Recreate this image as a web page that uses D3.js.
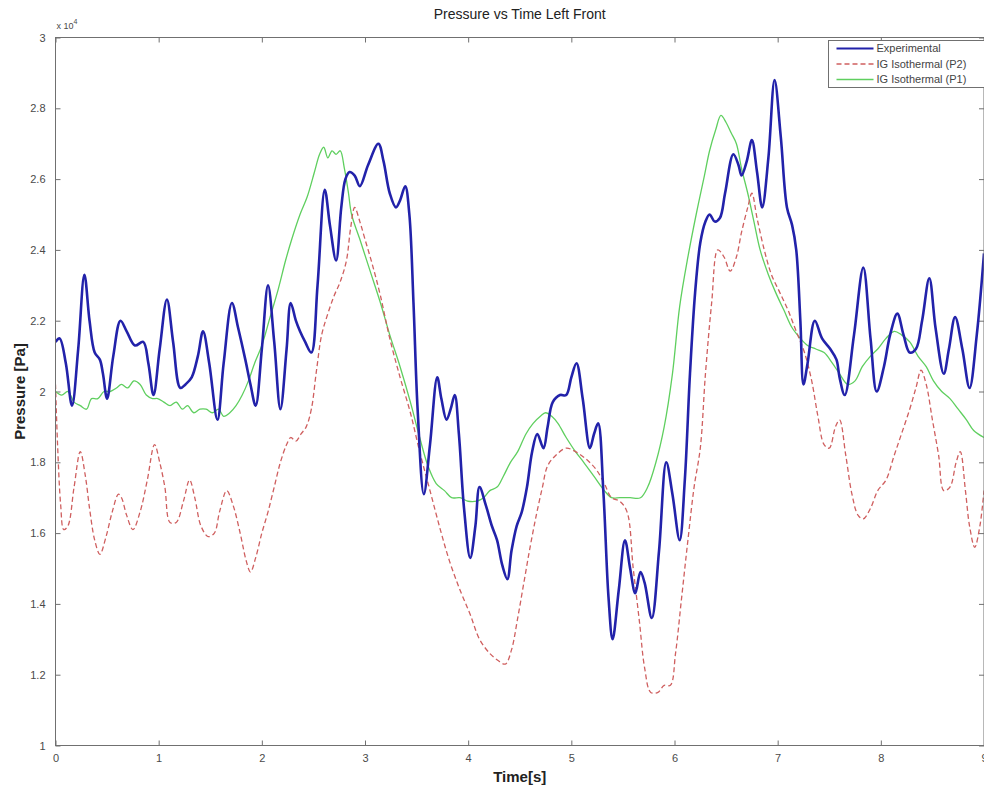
<!DOCTYPE html>
<html>
<head>
<meta charset="utf-8">
<script src="https://cdn.jsdelivr.net/npm/d3@7"></script>
<style>
  html, body { margin: 0; padding: 0; background: #fff; }
  svg { display: block; }
  text { font-family: "Liberation Sans", Arial, Helvetica, sans-serif; }
</style>
</head>
<body>
<svg id="chart" width="984" height="789"></svg>
<script>
// Time axis ticks (s) and pressure ticks (x 10^4 Pa)
const xTicks = [0, 1, 2, 3, 4, 5, 6, 7, 8, 9];
const yTicks = [1, 1.2, 1.4, 1.6, 1.8, 2, 2.2, 2.4, 2.6, 2.8, 3];
const seriesNames = ["Experimental", "IG Isothermal (P2)", "IG Isothermal (P1)"];

// Experimental pressure (x 10^4 Pa)
const expTime = [0,0.04,0.10,0.16,0.22,0.28,0.33,0.38,0.43,0.46,0.50,0.56,0.63,0.69,0.77,0.85,0.90,0.95,1.01,1.08,1.14,1.21,1.26,1.32,1.38,1.43,1.49,1.57,1.63,1.71,1.77,1.84,1.89,1.94,2.00,2.06,2.12,2.18,2.24,2.28,2.33,2.37,2.42,2.48,2.54,2.61,2.66,2.72,2.77,2.81,2.85,2.90,2.95,3.03,3.13,3.18,3.24,3.30,3.34,3.39,3.43,3.47,3.51,3.57,3.63,3.70,3.74,3.79,3.83,3.87,3.91,3.96,4.02,4.07,4.11,4.17,4.23,4.28,4.33,4.38,4.42,4.47,4.52,4.57,4.62,4.67,4.73,4.77,4.82,4.89,4.95,5.00,5.05,5.11,5.18,5.22,5.26,5.31,5.36,5.40,5.46,5.52,5.57,5.62,5.67,5.71,5.78,5.85,5.92,5.98,6.05,6.10,6.15,6.20,6.25,6.30,6.34,6.39,6.44,6.49,6.57,6.62,6.65,6.70,6.75,6.80,6.85,6.91,6.97,7.03,7.09,7.14,7.18,7.22,7.25,7.29,7.36,7.43,7.51,7.57,7.60,7.65,7.74,7.83,7.90,7.96,8.03,8.09,8.16,8.22,8.28,8.34,8.40,8.47,8.53,8.61,8.66,8.72,8.79,8.86,8.93,9.00];
const expPressure = [2.14,2.15,2.08,1.96,2.12,2.33,2.20,2.11,2.09,2.05,1.98,2.10,2.20,2.17,2.13,2.14,2.08,1.99,2.12,2.26,2.14,2.01,2.02,2.04,2.10,2.17,2.08,1.92,2.08,2.25,2.18,2.09,2.02,1.96,2.12,2.30,2.14,1.95,2.12,2.25,2.20,2.17,2.14,2.11,2.30,2.57,2.47,2.37,2.52,2.60,2.62,2.61,2.58,2.64,2.70,2.65,2.56,2.52,2.54,2.58,2.50,2.25,1.95,1.71,1.85,2.04,1.98,1.92,1.95,1.99,1.88,1.67,1.53,1.62,1.73,1.68,1.62,1.58,1.51,1.47,1.55,1.62,1.66,1.73,1.83,1.88,1.84,1.90,1.97,1.99,1.99,2.04,2.08,1.98,1.84,1.88,1.91,1.72,1.42,1.30,1.44,1.58,1.50,1.43,1.49,1.46,1.36,1.55,1.80,1.71,1.58,1.75,2.05,2.28,2.42,2.48,2.50,2.48,2.49,2.56,2.67,2.64,2.61,2.65,2.71,2.62,2.52,2.66,2.88,2.72,2.52,2.47,2.40,2.20,2.02,2.08,2.20,2.15,2.12,2.09,2.04,1.99,2.16,2.35,2.15,2.00,2.07,2.16,2.22,2.16,2.11,2.12,2.20,2.32,2.18,2.05,2.12,2.21,2.12,2.01,2.16,2.39];

// IG isothermal model, P2 (x 10^4 Pa)
const p2Time = [0,0.02,0.05,0.08,0.12,0.18,0.24,0.29,0.33,0.38,0.43,0.49,0.55,0.61,0.64,0.69,0.75,0.82,0.89,0.96,1.01,1.06,1.11,1.17,1.24,1.30,1.35,1.41,1.48,1.54,1.59,1.66,1.72,1.79,1.85,1.89,1.94,2.00,2.06,2.12,2.18,2.24,2.28,2.33,2.38,2.43,2.48,2.53,2.58,2.64,2.70,2.76,2.82,2.86,2.90,2.95,3.00,3.07,3.15,3.24,3.34,3.44,3.53,3.63,3.73,3.82,3.92,4.02,4.11,4.21,4.29,4.36,4.42,4.48,4.54,4.60,4.66,4.72,4.77,4.85,4.95,5.04,5.14,5.24,5.32,5.39,5.47,5.54,5.60,5.66,5.71,5.77,5.84,5.90,5.96,6.01,6.07,6.13,6.19,6.25,6.30,6.36,6.42,6.48,6.54,6.60,6.65,6.71,6.75,6.80,6.87,6.94,7.02,7.10,7.18,7.26,7.33,7.39,7.45,7.50,7.56,7.60,7.66,7.72,7.78,7.83,7.90,7.97,8.05,8.13,8.20,8.28,8.34,8.39,8.44,8.50,8.56,8.61,8.67,8.73,8.77,8.82,8.86,8.91,8.96,9.00];
const p2Pressure = [2.02,1.85,1.68,1.61,1.62,1.73,1.83,1.76,1.67,1.58,1.54,1.59,1.66,1.71,1.70,1.65,1.61,1.66,1.75,1.85,1.80,1.73,1.63,1.63,1.69,1.75,1.70,1.62,1.59,1.60,1.66,1.72,1.68,1.60,1.52,1.49,1.53,1.60,1.66,1.73,1.80,1.85,1.87,1.86,1.88,1.90,1.95,2.06,2.16,2.22,2.27,2.31,2.37,2.46,2.52,2.48,2.43,2.36,2.27,2.15,2.04,1.94,1.83,1.72,1.61,1.52,1.44,1.37,1.30,1.26,1.24,1.23,1.27,1.36,1.46,1.56,1.65,1.73,1.79,1.82,1.84,1.83,1.81,1.78,1.74,1.70,1.69,1.66,1.50,1.35,1.22,1.15,1.15,1.17,1.17,1.26,1.42,1.58,1.73,1.84,2.05,2.25,2.40,2.38,2.34,2.38,2.45,2.52,2.56,2.49,2.40,2.33,2.28,2.23,2.17,2.11,2.03,1.93,1.85,1.84,1.90,1.92,1.82,1.71,1.65,1.64,1.67,1.72,1.75,1.82,1.88,1.95,2.01,2.06,2.02,1.92,1.82,1.72,1.73,1.80,1.83,1.72,1.62,1.56,1.62,1.72];

// IG isothermal model, P1 (x 10^4 Pa)
const p1Time = [0,0.06,0.12,0.18,0.24,0.30,0.35,0.41,0.47,0.53,0.59,0.64,0.70,0.76,0.82,0.88,0.94,0.99,1.05,1.11,1.17,1.23,1.28,1.34,1.40,1.46,1.52,1.58,1.63,1.69,1.75,1.81,1.87,1.93,2.00,2.08,2.16,2.23,2.29,2.37,2.44,2.51,2.56,2.60,2.64,2.68,2.72,2.76,2.80,2.84,2.87,2.95,3.05,3.15,3.24,3.34,3.44,3.53,3.61,3.69,3.77,3.84,3.92,4.00,4.08,4.15,4.21,4.28,4.34,4.41,4.48,4.56,4.63,4.70,4.75,4.81,4.87,4.95,5.04,5.12,5.22,5.32,5.39,5.47,5.57,5.67,5.74,5.82,5.90,5.98,6.05,6.13,6.21,6.29,6.34,6.40,6.45,6.50,6.55,6.60,6.65,6.71,6.77,6.83,6.91,6.98,7.06,7.14,7.22,7.29,7.37,7.45,7.53,7.60,7.68,7.75,7.82,7.90,7.97,8.05,8.13,8.20,8.28,8.36,8.44,8.51,8.59,8.67,8.75,8.83,8.90,9.00];
const p1Pressure = [2.00,1.99,2.00,1.97,1.96,1.95,1.98,1.98,2.00,2.00,2.01,2.02,2.01,2.03,2.02,1.99,1.98,1.98,1.97,1.96,1.97,1.95,1.96,1.94,1.95,1.95,1.94,1.95,1.93,1.94,1.96,1.99,2.03,2.08,2.13,2.21,2.29,2.37,2.43,2.50,2.55,2.62,2.67,2.69,2.66,2.68,2.67,2.68,2.63,2.56,2.50,2.43,2.34,2.25,2.16,2.07,1.97,1.87,1.79,1.74,1.72,1.70,1.70,1.69,1.69,1.70,1.72,1.73,1.76,1.80,1.83,1.88,1.91,1.93,1.94,1.93,1.91,1.87,1.83,1.80,1.76,1.72,1.70,1.70,1.70,1.70,1.73,1.80,1.90,2.05,2.24,2.38,2.50,2.61,2.68,2.74,2.78,2.76,2.73,2.70,2.63,2.56,2.48,2.40,2.33,2.28,2.23,2.18,2.15,2.13,2.12,2.11,2.08,2.05,2.02,2.03,2.07,2.10,2.12,2.15,2.17,2.16,2.14,2.10,2.07,2.03,2.00,1.98,1.95,1.92,1.89,1.87];

const svg = d3.select("#chart");
const plot = { left: 55.5, right: 984, top: 37.5, bottom: 745.5 };

const x = d3.scaleLinear().domain([0, 9]).range([plot.left, plot.right]);
const y = d3.scaleLinear().domain([1, 3]).range([plot.bottom, plot.top]);

svg.append("rect").attr("width", 984).attr("height", 789).attr("fill", "#fff");

svg.append("defs").append("clipPath").attr("id", "plot-clip")
  .append("rect")
  .attr("x", plot.left).attr("y", plot.top)
  .attr("width", plot.right - plot.left).attr("height", plot.bottom - plot.top);

const axisColor = "#707070";
const labelColor = "#4a4a4a";

function styleAxis(g, showLabels) {
  g.select(".domain").remove();
  g.selectAll(".tick line").attr("stroke", axisColor).attr("stroke-width", 1);
  if (showLabels) {
    g.selectAll(".tick text").attr("fill", labelColor).attr("font-size", 11);
  } else {
    g.selectAll(".tick text").remove();
  }
}

// Bottom axis with labels, ticks pointing into the plot
svg.append("g")
  .attr("transform", `translate(0,${plot.bottom})`)
  .call(d3.axisBottom(x).tickValues(xTicks).tickSizeInner(-5).tickSizeOuter(0).tickPadding(9).tickFormat(d3.format("d")))
  .call(g => styleAxis(g, true));

// Top axis, ticks only
svg.append("g")
  .attr("transform", `translate(0,${plot.top})`)
  .call(d3.axisTop(x).tickValues(xTicks).tickSizeInner(-5).tickSizeOuter(0))
  .call(g => styleAxis(g, false));

// Left axis with labels
svg.append("g")
  .attr("transform", `translate(${plot.left},0)`)
  .call(d3.axisLeft(y).tickValues(yTicks).tickSizeInner(-5).tickSizeOuter(0).tickPadding(10).tickFormat(d3.format("~g")))
  .call(g => styleAxis(g, true));

// Right axis, ticks only
svg.append("g")
  .attr("transform", `translate(${plot.right},0)`)
  .call(d3.axisRight(y).tickValues(yTicks).tickSizeInner(-5).tickSizeOuter(0))
  .call(g => styleAxis(g, false));

// Exponent marker above the y axis
const expo = svg.append("text")
  .attr("x", plot.left + 1).attr("y", 29)
  .attr("font-size", 9).attr("fill", labelColor);
expo.append("tspan").text("x 10");
expo.append("tspan").attr("dy", -5).attr("font-size", 7).text("4");

// Series
const lineGen = d3.line()
  .x(d => x(d[0]))
  .y(d => y(d[1]))
  .curve(d3.curveCatmullRom.alpha(0.5));

const series = [
  { name: seriesNames[2], t: p1Time, v: p1Pressure, color: "#5fcf5f", width: 1.3, dash: null },
  { name: seriesNames[1], t: p2Time, v: p2Pressure, color: "#cf5f5f", width: 1.3, dash: "5,3" },
  { name: seriesNames[0], t: expTime, v: expPressure, color: "#2222aa", width: 2.6, dash: null }
];

const lines = svg.append("g").attr("clip-path", "url(#plot-clip)");
series.forEach(s => {
  lines.append("path")
    .datum(s.t.map((t, i) => [t, s.v[i]]))
    .attr("fill", "none")
    .attr("stroke", s.color)
    .attr("stroke-width", s.width)
    .attr("stroke-dasharray", s.dash)
    .attr("stroke-linejoin", "round")
    .attr("d", lineGen);
});

// Plot frame
svg.append("rect")
  .attr("x", plot.left).attr("y", plot.top)
  .attr("width", plot.right - plot.left).attr("height", plot.bottom - plot.top)
  .attr("fill", "none").attr("stroke", axisColor).attr("stroke-width", 1);

// Title and axis labels
svg.append("text")
  .attr("x", (plot.left + plot.right) / 2).attr("y", 19)
  .attr("text-anchor", "middle").attr("font-size", 14).attr("fill", "#222")
  .text("Pressure vs Time Left Front");

svg.append("text")
  .attr("x", (plot.left + plot.right) / 2).attr("y", 782)
  .attr("text-anchor", "middle").attr("font-size", 15).attr("font-weight", "bold").attr("fill", "#222")
  .text("Time[s]");

svg.append("text")
  .attr("transform", `translate(25,${(plot.top + plot.bottom) / 2}) rotate(-90)`)
  .attr("text-anchor", "middle").attr("font-size", 15).attr("font-weight", "bold").attr("fill", "#222")
  .text("Pressure [Pa]");

// Legend
const legend = svg.append("g").attr("transform", "translate(828.5,40.5)");
legend.append("rect")
  .attr("width", 160).attr("height", 47)
  .attr("fill", "#fff").attr("stroke", axisColor).attr("stroke-width", 1);

const legendItems = [series[2], series[1], series[0]];
legendItems.forEach((s, i) => {
  const yy = 8 + i * 15.5;
  legend.append("line")
    .attr("x1", 8).attr("x2", 45).attr("y1", yy).attr("y2", yy)
    .attr("stroke", s.color).attr("stroke-width", Math.min(s.width, 2))
    .attr("stroke-dasharray", s.dash);
  legend.append("text")
    .attr("x", 48).attr("y", yy).attr("dy", "0.35em")
    .attr("font-size", 11).attr("fill", "#444")
    .text(s.name);
});
</script>
</body>
</html>
